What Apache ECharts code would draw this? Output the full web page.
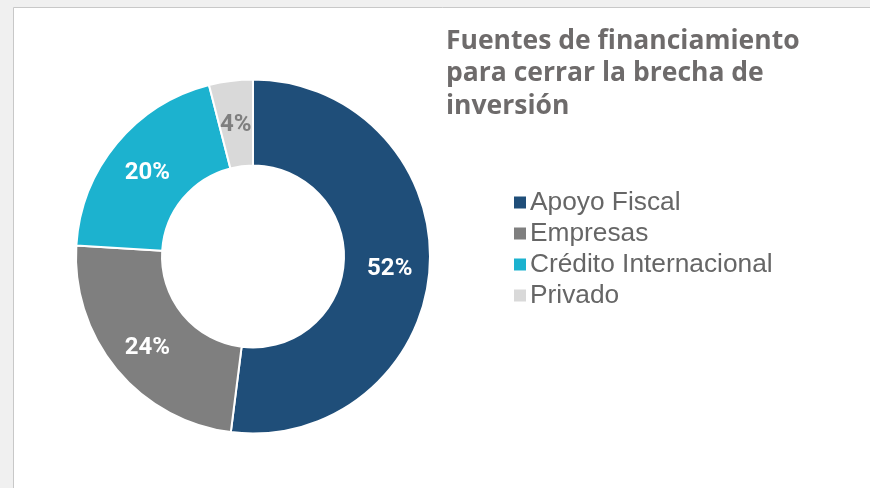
<!DOCTYPE html>
<html style="height: 100%">
   <head>
       <meta charset="utf-8">
   </head>
   <body style="height: 100%; margin: 0">
       <div id="container" style="width: 870px; height: 488px"></div>
       <script type="text/javascript" src="https://cdn.jsdelivr.net/npm/echarts@6/dist/echarts.min.js"></script>
       <script type="text/javascript">
var categories = ['Apoyo Fiscal', 'Empresas', 'Crédito Internacional', 'Privado'];
var values = [52, 24, 20, 4];
var colors = ['#1f4e79', '#7f7f7f', '#1cb2cf', '#d9d9d9'];
var labelColors = ['#ffffff', '#ffffff', '#ffffff', '#7f7f7f'];

var dom = document.getElementById("container");
var myChart = echarts.init(dom);
var option = null;

var pieData = categories.map(function (name, i) {
    return {
        name: name,
        value: values[i],
        itemStyle: {color: colors[i]},
        label: {color: labelColors[i]}
    };
});

option = {
    backgroundColor: '#f0f0f0',
    animation: false,
    graphic: [
        {
            type: 'rect',
            shape: {x: 13.5, y: 7.5, width: 900, height: 520},
            style: {fill: '#ffffff', stroke: '#c8c8c8', lineWidth: 1},
            z: -10
        }
    ],
    title: {
        text: 'Fuentes de financiamiento\npara cerrar la brecha de\ninversión',
        left: 441,
        top: 20,
        textStyle: {
            fontFamily: 'Open Sans',
            fontWeight: 'bold',
            fontSize: 26.5,
            lineHeight: 32.5,
            color: '#6e6b6b'
        }
    },
    legend: {
        orient: 'vertical',
        left: 507,
        top: 182,
        itemWidth: 14,
        itemHeight: 14,
        itemGap: 0,
        icon: 'rect',
        data: categories,
        textStyle: {
            fontFamily: 'Liberation Sans',
            fontSize: 26.3,
            lineHeight: 31,
            color: '#666666',
            padding: [0, 0, 0, -2]
        }
    },
    series: [
        {
            type: 'pie',
            center: [253, 256.5],
            radius: [91, 177],
            startAngle: 90,
            clockwise: true,
            avoidLabelOverlap: false,
            itemStyle: {
                borderColor: '#ffffff',
                borderWidth: 2
            },
            label: {
                position: 'inside',
                formatter: '{c}%',
                fontFamily: 'Roboto',
                fontWeight: 'bold',
                fontSize: 24
            },
            labelLayout: {dy: 4},
            labelLine: {show: false},
            data: pieData
        }
    ]
};

if (option && typeof option === "object") {
    myChart.setOption(option, true);
}
       </script>
   </body>
</html>
